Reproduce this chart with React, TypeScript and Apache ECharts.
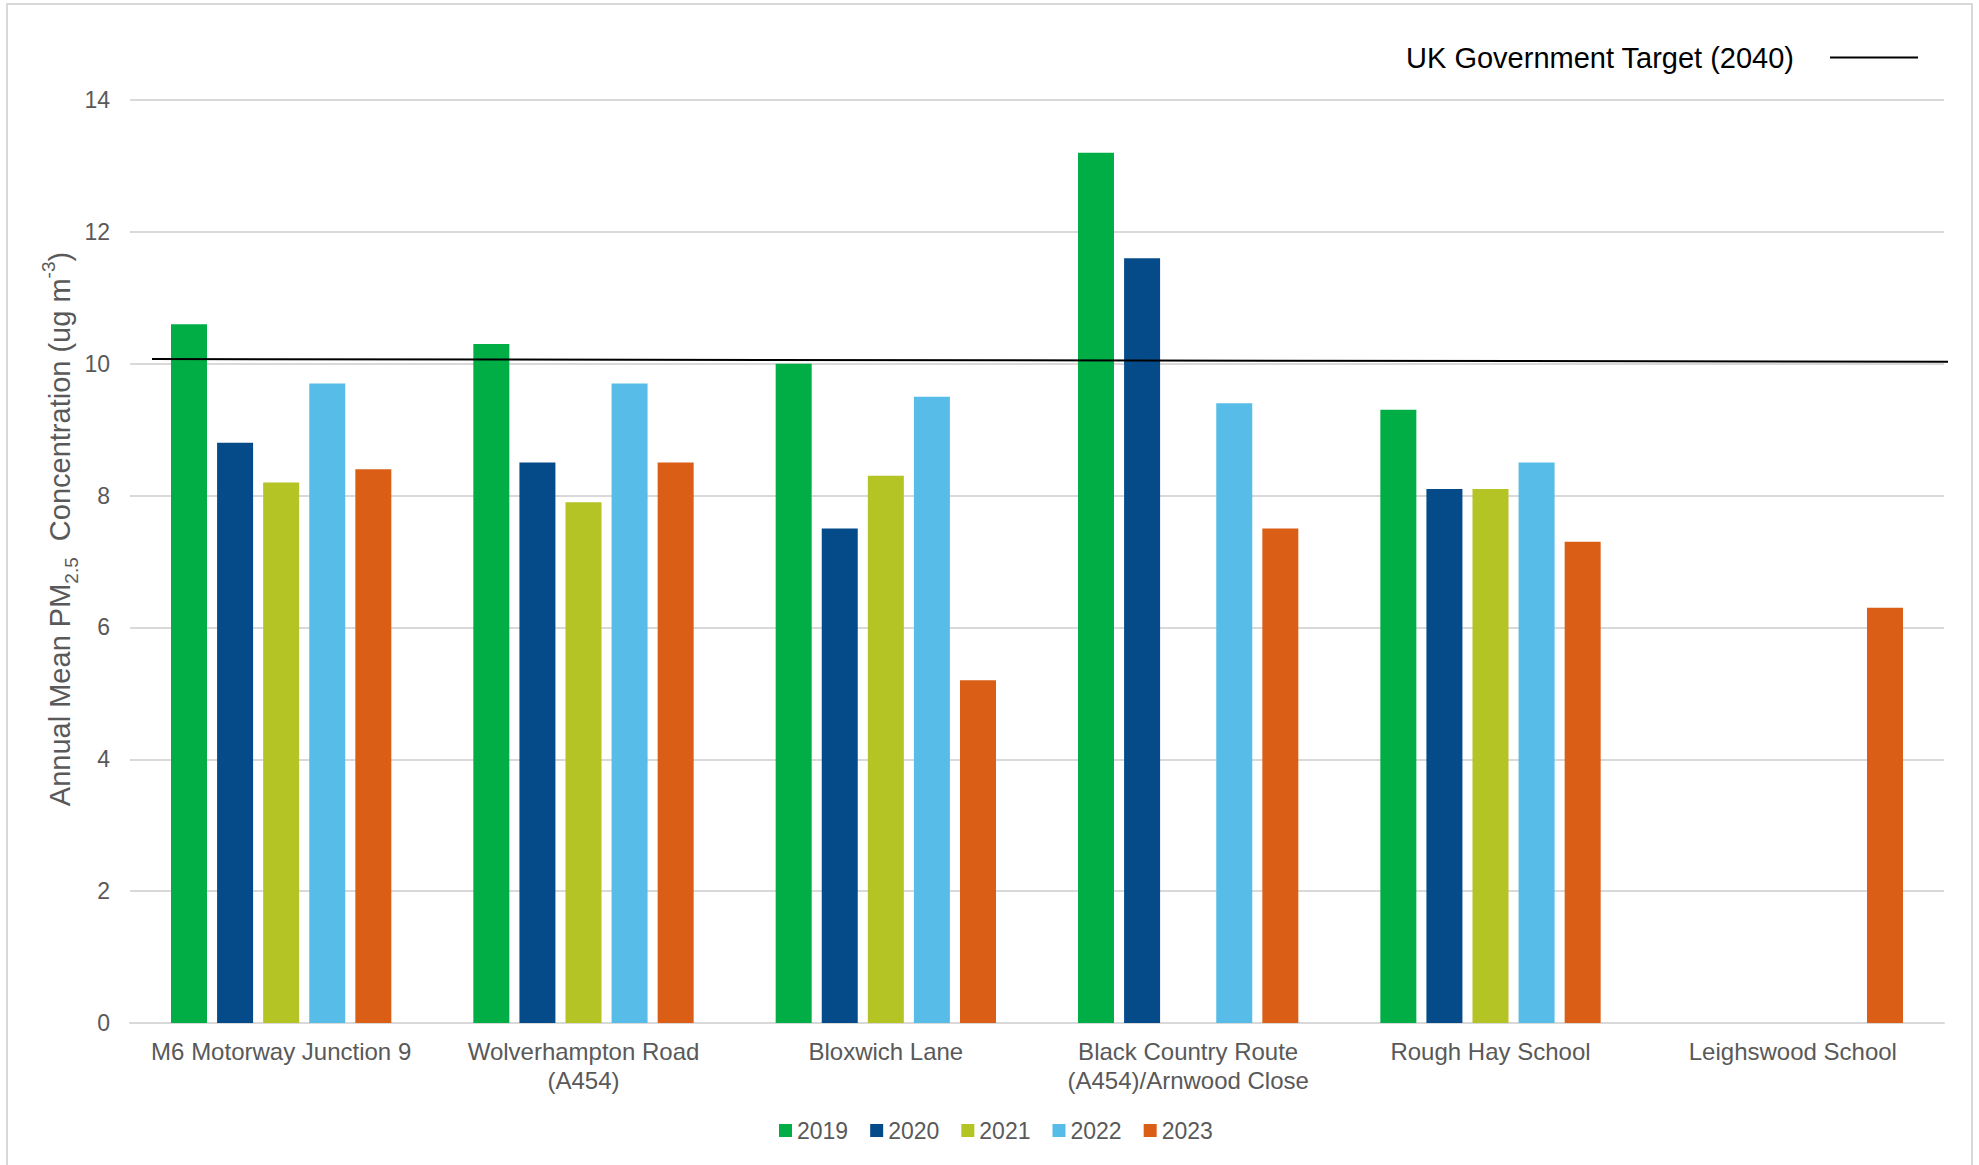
import React, { useEffect, useRef } from "react";
import * as echarts from "echarts";

// Monitoring sites along the category axis
const sites = [
  "M6 Motorway Junction 9",
  "Wolverhampton Road\n(A454)",
  "Bloxwich Lane",
  "Black Country Route\n(A454)/Arnwood Close",
  "Rough Hay School",
  "Leighswood School",
];

// Annual mean PM2.5 (ug m-3) per year, one value per site (null = not monitored)
const years = ["2019", "2020", "2021", "2022", "2023"];
const pm2019 = [10.6, 10.3, 10.0, 13.2, 9.3, null];
const pm2020 = [8.8, 8.5, 7.5, 11.6, 8.1, null];
const pm2021 = [8.2, 7.9, 8.3, null, 8.1, null];
const pm2022 = [9.7, 9.7, 9.5, 9.4, 8.5, null];
const pm2023 = [8.4, 8.5, 5.2, 7.5, 7.3, 6.3];
const yearValues = [pm2019, pm2020, pm2021, pm2022, pm2023];
const yearColors = ["#00ae45", "#054b8a", "#b4c424", "#57bde8", "#db5e16"];

// Target reference line, start and end values across the plot
const targetName = "UK Government Target (2040)";
const targetLine = [10.07, 10.03];

const yTicks = { min: 0, max: 14, interval: 2 };

const FONT = "'Liberation Sans', Arial, Helvetica, sans-serif";
const GREY = "#595959";

export default function App() {
  const ref = useRef<HTMLDivElement>(null);

  useEffect(() => {
    if (!ref.current) return;
    const chart = echarts.init(ref.current, null, { renderer: "svg" });

    const barSeries = years.map((y, i) => ({
      name: y,
      type: "bar",
      xAxisIndex: 0,
      yAxisIndex: 0,
      data: yearValues[i],
      barWidth: 36,
      barGap: "28%",
      itemStyle: { color: yearColors[i] },
      silent: true,
    }));

    const option = {
      animation: false,
      backgroundColor: "#ffffff",
      textStyle: { fontFamily: FONT },
      grid: [
        { left: 130, right: 35, top: 100, bottom: 142 },
        { left: 152, right: 31, top: 100, bottom: 142 },
      ],
      xAxis: [
        {
          type: "category",
          gridIndex: 0,
          data: sites,
          axisLine: { lineStyle: { color: "#d9d9d9", width: 2 } },
          axisTick: { show: false },
          axisLabel: {
            interval: 0,
            color: GREY,
            fontSize: 24,
            lineHeight: 29,
            margin: 14,
            fontFamily: FONT,
          },
        },
        { type: "value", gridIndex: 1, min: 0, max: 1, show: false },
      ],
      yAxis: [
        {
          type: "value",
          gridIndex: 0,
          min: yTicks.min,
          max: yTicks.max,
          interval: yTicks.interval,
          axisLine: { show: false },
          axisTick: { show: false },
          axisLabel: { color: GREY, fontSize: 23, margin: 20, fontFamily: FONT },
          splitLine: { lineStyle: { color: "#d9d9d9", width: 2 } },
        },
        {
          type: "value",
          gridIndex: 1,
          min: yTicks.min,
          max: yTicks.max,
          show: false,
        },
      ],
      legend: [
        {
          data: years,
          left: 774,
          top: 1114,
          icon: "rect",
          itemWidth: 13,
          itemHeight: 13,
          itemGap: 22,
          selectedMode: false,
          textStyle: { color: GREY, fontSize: 23, fontFamily: FONT },
        },
        {
          data: [{ name: targetName, icon: "rect" }],
          right: 56,
          top: 38,
          align: "right",
          itemWidth: 88,
          itemHeight: 2,
          selectedMode: false,
          itemStyle: { color: "#000000", borderWidth: 0 },
          lineStyle: { width: 0 },
          textStyle: {
            color: "#000000",
            fontSize: 29,
            fontFamily: FONT,
            padding: [0, 31, 0, 0],
          },
        },
      ],
      series: [
        ...barSeries,
        {
          name: targetName,
          type: "line",
          xAxisIndex: 1,
          yAxisIndex: 1,
          data: targetLine.map((v, i) => [i, v]),
          symbol: "none",
          silent: true,
          lineStyle: { color: "#000000", width: 2 },
          itemStyle: { color: "#000000" },
          z: 5,
        },
      ],
      graphic: [
        {
          type: "rect",
          silent: true,
          z: -10,
          shape: { x: 7, y: 4, width: 1965, height: 1200 },
          style: { fill: "none", stroke: "#d9d9d9", lineWidth: 2 },
        },
        {
          type: "text",
          silent: true,
          x: 60,
          y: 529,
          rotation: Math.PI / 2,
          style: {
            text: "{a|Annual Mean PM}{s|2.5}{a|  Concentration (ug m}{p|-3}{a|)}",
            align: "center",
            verticalAlign: "middle",
            fill: GREY,
            rich: {
              a: { fontSize: 29, lineHeight: 42, verticalAlign: "middle", fill: GREY, fontFamily: FONT },
              s: { fontSize: 19, lineHeight: 27, verticalAlign: "bottom", fill: GREY, fontFamily: FONT },
              p: { fontSize: 19, lineHeight: 31, verticalAlign: "top", fill: GREY, fontFamily: FONT },
            },
          },
        },
      ],
    };

    chart.setOption(option as any);
    return () => chart.dispose();
  }, []);

  return (
    <div
      ref={ref}
      style={{ position: "absolute", left: 0, top: 0, width: 1979, height: 1165, background: "#fff" }}
    />
  );
}
